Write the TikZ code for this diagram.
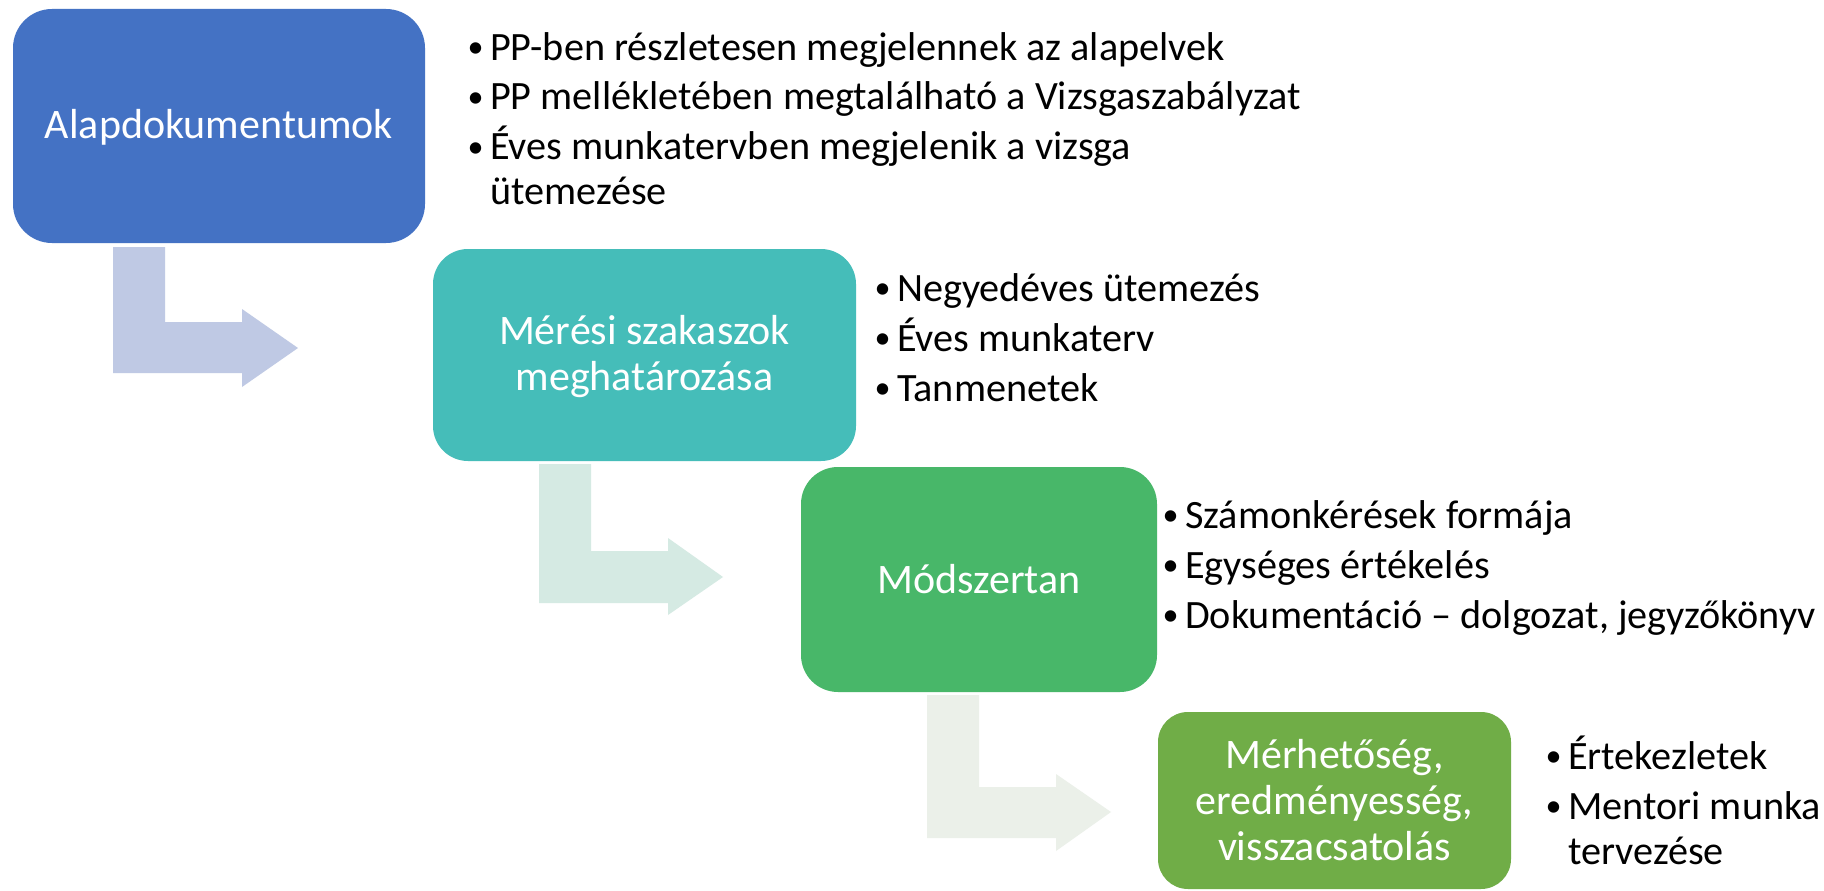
\documentclass[tikz,border=0pt]{standalone}
\usepackage{fontspec}
\setmainfont{Carlito}
\definecolor{cA}{HTML}{4472C4}
\definecolor{cB}{HTML}{45BDB9}
\definecolor{cC}{HTML}{48B769}
\definecolor{cD}{HTML}{70AD47}
\definecolor{aA}{HTML}{BFC9E4}
\definecolor{aB}{HTML}{D5EAE3}
\definecolor{aC}{HTML}{EBF0E9}
\newcommand\bul{\leavevmode\llap{\makebox[0pt]{\raisebox{2.6pt}{\scalebox{0.8}{•}}}\hspace{14.5pt}}}
\begin{document}
\begin{tikzpicture}[x=1pt,y=-1pt,
  stepbox/.style={draw=none, inner sep=0pt, outer sep=0pt, anchor=north west},
  boxtext/.style={inner sep=0pt, anchor=base, text=white, font=\fontsize{42}{46}\selectfont},
  bullist/.style={inner sep=0pt, anchor=base west, text=black, font=\fontsize{40.2}{45}\selectfont}
]
\useasboundingbox (0,0) rectangle (1824,891);
\fill[white] (0,0) rectangle (1824,891);

% boxes
\node[stepbox, fill=cA, rounded corners=39pt, minimum width=412pt, minimum height=234pt] (n1) at (13,9) {};
\node[stepbox, fill=cB, rounded corners=35pt, minimum width=423pt, minimum height=212pt] (n2) at (433,249) {};
\node[stepbox, fill=cC, rounded corners=37pt, minimum width=356pt, minimum height=225pt] (n3) at (801,467) {};
\node[stepbox, fill=cD, rounded corners=30pt, minimum width=353pt, minimum height=177pt] (n4) at (1158,712) {};

% bent arrows
\coordinate (p1) at (113,247);
\coordinate (p2) at (539,464);
\coordinate (p3) at (927,695);
\fill[aA] (p1) -- ++(52,0) -- ++(0,75) -- ++(77,0) -- ++(0,-13) -- ++(56,39) -- ++(-56,39) -- ++(0,-14) -- ++(-129,0) -- cycle;
\fill[aB] (p2) -- ++(52,0) -- ++(0,87) -- ++(77,0) -- ++(0,-13) -- ++(55,39) -- ++(-55,38) -- ++(0,-12) -- ++(-129,0) -- cycle;
\fill[aC] (p3) -- ++(52,0) -- ++(0,92) -- ++(77,0) -- ++(0,-13) -- ++(55,38) -- ++(-55,39) -- ++(0,-13) -- ++(-129,0) -- cycle;

% box texts
\node[boxtext] (t1) at (219,139) {\parbox[t]{400pt}{\centering Alapdokumentumok}};
\node[boxtext] (t2) at (644.5,344) {\parbox[t]{410pt}{\centering Mérési szakaszok\\meghatározása}};
\node[boxtext] (t3) at (979,593) {\parbox[t]{340pt}{\centering Módszertan}};
\node[boxtext] (t4) at (1334.5,768) {\parbox[t]{340pt}{\centering Mérhetőség,\\eredményesség,\\visszacsatolás}};

% bullet lists
\node[bullist] (l1) at (490,60) {\parbox[t]{1000pt}{\bul PP-ben részletesen megjelennek az alapelvek\\[5pt]\bul PP mellékletében megtalálható a Vizsgaszabályzat\\[5pt]\bul Éves munkatervben megjelenik a vizsga\\ütemezése}};
\node[bullist] (l2) at (897,301) {\parbox[t]{600pt}{\bul Negyedéves ütemezés\\[5pt]\bul Éves munkaterv\\[5pt]\bul Tanmenetek}};
\node[bullist] (l3) at (1185,528) {\parbox[t]{700pt}{\bul Számonkérések formája\\[5pt]\bul Egységes értékelés\\[5pt]\bul Dokumentáció – dolgozat, jegyzőkönyv}};
\node[bullist] (l4) at (1568,769) {\parbox[t]{400pt}{\bul Értekezletek\\[5pt]\bul Mentori munka\\tervezése}};
\end{tikzpicture}
\end{document}
